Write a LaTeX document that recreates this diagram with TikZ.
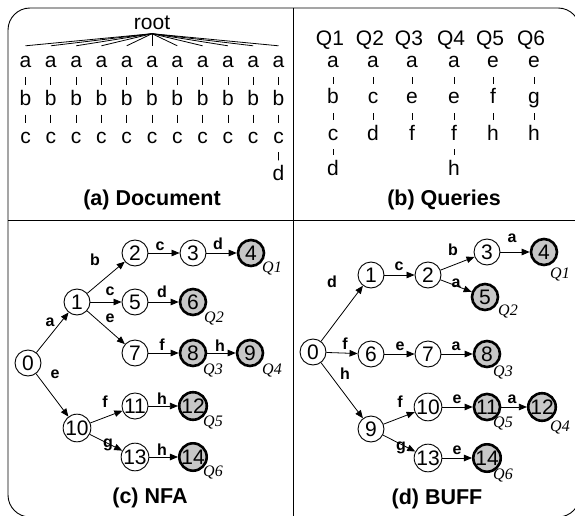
\documentclass[tikz,border=0pt]{standalone}
\usepackage{fontspec}
\setmainfont{Liberation Sans}
\newfontfamily\qfont{Liberation Serif}
\usetikzlibrary{arrows.meta}

\begin{document}
\begin{tikzpicture}[x=1pt,y=-1pt,
  txt/.style={font=\fontsize{21}{21}\selectfont, inner sep=0pt, text height=15pt, text depth=0pt, anchor=base},
  bar/.style={line width=0.8pt, shorten <=9pt, shorten >=5pt},
  fan/.style={line width=0.8pt},
  ttl/.style={font=\bfseries\fontsize{21.5}{21.5}\selectfont, inner sep=0pt, anchor=base},
  st/.style={circle, draw, line width=0.9pt, minimum size=26pt, inner sep=0pt, font=\fontsize{21}{21}\selectfont},
  acc/.style={st, line width=2.6pt, fill=black!22},
  tr/.style={-{Triangle[length=8pt,width=6.5pt]}, line width=0.8pt},
  lbl/.style={font=\bfseries\fontsize{16}{16}\selectfont, inner sep=0pt},
  ql/.style={font=\qfont\itshape\fontsize{16}{16}\selectfont, inner sep=0pt},
  frame/.style={line width=0.9pt}]

\useasboundingbox (0,0) rectangle (575,516);
\clip (0,0) rectangle (575,516);

% outer frame and panel dividers
\draw[frame, rounded corners=22pt] (8,8) rectangle (580,517);
\draw[frame] (293,8) -- (293,517);
\draw[frame] (8,220) -- (580,220);

% ---------- (a) Document ----------
\node[txt, text height=0pt] (root) at (152,30) {root};
\foreach \i in {0,...,10} {
  \pgfmathsetmacro\xx{25.5+25.3*\i}
  \node[txt] (la\i) at (\xx,68) {a};
  \node[txt] (lb\i) at (\xx,105.5) {b};
  \node[txt] (lc\i) at (\xx,143) {c};
  \draw[bar] (la\i) -- (lb\i);
  \draw[bar] (lb\i) -- (lc\i);
  \draw[fan] ([yshift=-3pt]root.south) -- ([yshift=7pt]la\i.north);
}
\node[txt] (ld10) at (278.5,180.5) {d};
\draw[bar] (lc10) -- (ld10);
\node[ttl] (capa) at (152,205) {(a) Document};

% ---------- (b) Queries ----------
\node[txt] (qh1) at (330,46) {Q1};
\node[txt] (qh2) at (370,46) {Q2};
\node[txt] (qh3) at (409,46) {Q3};
\node[txt] (qh4) at (451,46) {Q4};
\node[txt] (qh5) at (490,46) {Q5};
\node[txt] (qh6) at (531,46) {Q6};

\node[txt] (q1r1) at (333,68) {a};
\node[txt] (q1r2) at (333,104) {b};
\node[txt] (q1r3) at (333,140) {c};
\node[txt] (q1r4) at (333,175.5) {d};
\draw[bar] (q1r1) -- (q1r2);
\draw[bar] (q1r2) -- (q1r3);
\draw[bar] (q1r3) -- (q1r4);

\node[txt] (q2r1) at (373,68) {a};
\node[txt] (q2r2) at (373,104) {c};
\node[txt] (q2r3) at (373,140) {d};
\draw[bar] (q2r1) -- (q2r2);
\draw[bar] (q2r2) -- (q2r3);

\node[txt] (q3r1) at (412,68) {a};
\node[txt] (q3r2) at (412,104) {e};
\node[txt] (q3r3) at (412,140) {f};
\draw[bar] (q3r1) -- (q3r2);
\draw[bar] (q3r2) -- (q3r3);

\node[txt] (q4r1) at (454,68) {a};
\node[txt] (q4r2) at (454,104) {e};
\node[txt] (q4r3) at (454,140) {f};
\node[txt] (q4r4) at (454,175.5) {h};
\draw[bar] (q4r1) -- (q4r2);
\draw[bar] (q4r2) -- (q4r3);
\draw[bar] (q4r3) -- (q4r4);

\node[txt] (q5r1) at (493,68) {e};
\node[txt] (q5r2) at (493,104) {f};
\node[txt] (q5r3) at (493,140) {h};
\draw[bar] (q5r1) -- (q5r2);
\draw[bar] (q5r2) -- (q5r3);

\node[txt] (q6r1) at (534,68) {e};
\node[txt] (q6r2) at (534,104) {g};
\node[txt] (q6r3) at (534,140) {h};
\draw[bar] (q6r1) -- (q6r2);
\draw[bar] (q6r2) -- (q6r3);

\node[ttl] (capb) at (444,205) {(b) Queries};

% ---------- (c) NFA ----------
\node[st]  (n0)  at (28,363)  {0};
\node[st]  (n1)  at (77,302)  {1};
\node[st]  (n2)  at (135,253) {2};
\node[st]  (n3)  at (193,253) {3};
\node[acc] (n4)  at (251,253) {4};
\node[st]  (n5)  at (135,302) {5};
\node[acc] (n6)  at (193,302) {6};
\node[st]  (n7)  at (135,353) {7};
\node[acc] (n8)  at (193,353) {8};
\node[acc] (n9)  at (250,353) {9};
\node[st]  (n10) at (77,428)  {10};
\node[st]  (n11) at (135,406) {11};
\node[acc] (n12) at (193,406) {12};
\node[st]  (n13) at (135,457) {13};
\node[acc] (n14) at (193,457) {14};

\draw[tr] (n0) -- (n1);
\draw[tr] (n0) -- (n10);
\draw[tr] (n1) -- (n2);
\draw[tr] (n1) -- (n5);
\draw[tr] (n1) -- (n7);
\draw[tr] (n2) -- (n3);
\draw[tr] (n3) -- (n4);
\draw[tr] (n5) -- (n6);
\draw[tr] (n7) -- (n8);
\draw[tr] (n8) -- (n9);
\draw[tr] (n10) -- (n11);
\draw[tr] (n11) -- (n12);
\draw[tr] (n10) -- (n13);
\draw[tr] (n13) -- (n14);

\node[lbl] (nl01)  at (50,322)  {a};
\node[lbl] (nl010) at (55,374)  {e};
\node[lbl] (nl12)  at (95,260)  {b};
\node[lbl] (nl15)  at (110,291) {c};
\node[lbl] (nl17)  at (110,318) {e};
\node[lbl] (nl23)  at (160,246) {c};
\node[lbl] (nl34)  at (218,244) {d};
\node[lbl] (nl56)  at (162,292) {d};
\node[lbl] (nl78)  at (162,345) {f};
\node[lbl] (nl89)  at (220,346) {h};
\node[lbl] (nl1011) at (105,402) {f};
\node[lbl] (nl1112) at (162,399) {h};
\node[lbl] (nl1013) at (108,445) {g};
\node[lbl] (nl1314) at (162,450) {h};

\node[ql] (nq1) at (272,268) {Q1};
\node[ql] (nq2) at (214,318) {Q2};
\node[ql] (nq3) at (213,370) {Q3};
\node[ql] (nq4) at (272,370) {Q4};
\node[ql] (nq5) at (213,422) {Q5};
\node[ql] (nq6) at (213,472) {Q6};

\node[ttl] (capc) at (150,503) {(c) NFA};

% ---------- (d) BUFF ----------
\node[st]  (f0)  at (313,352) {0};
\node[st]  (f1)  at (371,275) {1};
\node[st]  (f2)  at (428,275) {2};
\node[st]  (f3)  at (487,252) {3};
\node[acc] (f4)  at (544,252) {4};
\node[acc] (f5)  at (485,297) {5};
\node[st]  (f6)  at (371,354) {6};
\node[st]  (f7)  at (428,354) {7};
\node[acc] (f8)  at (487,354) {8};
\node[st]  (f9)  at (371,429) {9};
\node[st]  (f10) at (428,407) {10};
\node[acc] (f11) at (487,407) {11};
\node[acc] (f12) at (542,407) {12};
\node[st]  (f13) at (428,458) {13};
\node[acc] (f14) at (487,458) {14};

\draw[tr] (f0) -- (f1);
\draw[tr] (f1) -- (f2);
\draw[tr] (f2) -- (f3);
\draw[tr] (f3) -- (f4);
\draw[tr] (f2) -- (f5);
\draw[tr] (f0) -- (f6);
\draw[tr] (f6) -- (f7);
\draw[tr] (f7) -- (f8);
\draw[tr] (f0) -- (f9);
\draw[tr] (f9) -- (f10);
\draw[tr] (f10) -- (f11);
\draw[tr] (f11) -- (f12);
\draw[tr] (f9) -- (f13);
\draw[tr] (f13) -- (f14);

\node[lbl] (fl01)   at (332,282) {d};
\node[lbl] (fl12)   at (399,266) {c};
\node[lbl] (fl23)   at (453,250) {b};
\node[lbl] (fl34)   at (512,238) {a};
\node[lbl] (fl25)   at (456,283) {a};
\node[lbl] (fl06)   at (345,344) {f};
\node[lbl] (fl67)   at (400,346) {e};
\node[lbl] (fl78)   at (456,346) {a};
\node[lbl] (fl09)   at (345,374) {h};
\node[lbl] (fl910)  at (400,402) {f};
\node[lbl] (fl1011) at (457,399) {e};
\node[lbl] (fl1112) at (512,399) {a};
\node[lbl] (fl913)  at (401,448) {g};
\node[lbl] (fl1314) at (457,450) {e};

\node[ql] (fq1) at (560,274) {Q1};
\node[ql] (fq2) at (508,311) {Q2};
\node[ql] (fq3) at (503,372) {Q3};
\node[ql] (fq4) at (560,427) {Q4};
\node[ql] (fq5) at (503,423) {Q5};
\node[ql] (fq6) at (503,475) {Q6};

\node[ttl] (capd) at (437,504) {(d) BUFF};
\end{tikzpicture}
\end{document}
